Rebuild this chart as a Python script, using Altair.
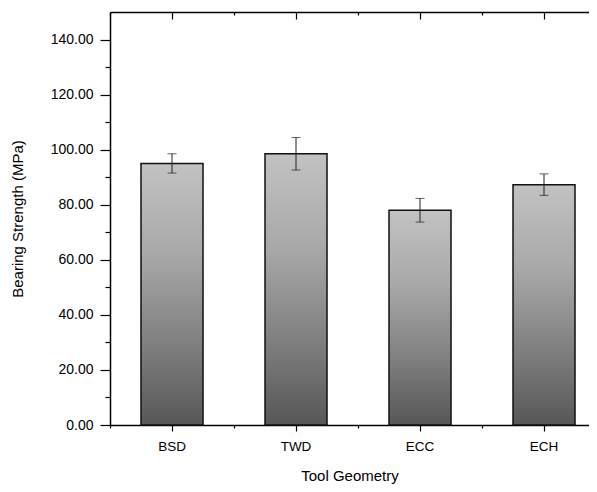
import altair as alt
import pandas as pd

categories = ["BSD", "TWD", "ECC", "ECH"]
strength = [95.0, 98.5, 78.0, 87.3]
error = [3.5, 5.9, 4.3, 3.9]
major_y = [0, 20, 40, 60, 80, 100, 120, 140]
minor_y = [10, 30, 50, 70, 90, 110, 130]

df = pd.DataFrame({"cat": categories, "val": strength, "err": error})
df["lo"] = df["val"] - df["err"]
df["hi"] = df["val"] + df["err"]

W, H = 479, 413
STEP = 124
FONT = "Liberation Sans"

xs = alt.Scale(type="band", domain=categories, paddingInner=0.5,
               paddingOuter=0.18145, align=0.689)
ys = alt.Scale(domain=[0, 150], nice=False, zero=True)


def xenc(axis):
    return alt.X("cat:N", scale=xs, axis=axis)


def yenc(axis, field="val"):
    return alt.Y(f"{field}:Q", scale=ys, axis=axis)


frame = dict(domain=True, domainColor="black", domainWidth=1.5,
             tickColor="black", tickWidth=1.2, grid=False)
common = dict(domain=False, tickColor="black", tickWidth=1.2, grid=False)
quiet = dict(labels=False, title=None, **common)

base = alt.Chart(df)

grad = alt.Gradient(
    gradient="linear",
    x1=0, x2=0, y1=0, y2=1,
    stops=[
        alt.GradientStop(color="#c2c2c2", offset=0),
        alt.GradientStop(color="#a8a8a8", offset=0.35),
        alt.GradientStop(color="#7e7e7e", offset=0.7),
        alt.GradientStop(color="#575757", offset=1),
    ],
)

bars = base.mark_bar(color=grad, stroke="#111111", strokeWidth=1.5).encode(
    x=xenc(alt.Axis(orient="bottom", title="Tool Geometry", labelAngle=0,
                    tickSize=6, labelPadding=8, titlePadding=16,
                    labelFont=FONT, labelFontSize=13.5, labelColor="black",
                    titleFont=FONT, titleFontSize=15, titleFontWeight="normal",
                    titleColor="black", **frame)),
    y=yenc(alt.Axis(orient="left", values=major_y, format=".2f",
                    title="Bearing Strength (MPa)", tickSize=10, labelPadding=7,
                    titlePadding=25,
                    labelFont=FONT, labelFontSize=14, labelColor="black",
                    titleFont=FONT, titleFontSize=15, titleFontWeight="normal",
                    titleColor="black", **frame)),
)

minor = base.mark_bar(opacity=0).encode(
    x=xenc(alt.Axis(orient="bottom", tickSize=3, tickOffset=-STEP / 2, **quiet)),
    y=yenc(alt.Axis(orient="left", values=minor_y, tickSize=5, **quiet)),
)

top = base.mark_bar(opacity=0).encode(
    x=xenc(alt.Axis(orient="bottom", offset=-H, tickSize=7, labels=False,
                    title=None, **frame)),
)

top_minor = base.mark_bar(opacity=0).encode(
    x=xenc(alt.Axis(orient="bottom", offset=-H, tickSize=3,
                    tickOffset=-STEP / 2, **quiet)),
)

rules = base.mark_rule(color="#222222", strokeWidth=1).encode(
    x=xenc(None), y=yenc(None, "lo"), y2="hi:Q"
)
cap_hi = base.mark_tick(color="#222222", size=9, thickness=1).encode(
    x=xenc(None), y=yenc(None, "hi")
)
cap_lo = base.mark_tick(color="#222222", size=9, thickness=1).encode(
    x=xenc(None), y=yenc(None, "lo")
)

chart = (
    alt.layer(bars, minor, top, top_minor, rules, cap_hi, cap_lo)
    .resolve_axis(x="independent", y="independent")
    .properties(
        width=W, height=H,
        autosize=alt.AutoSizeParams(type="none"),
        padding={"left": 102, "top": 4, "right": 0, "bottom": 59},
        background="white",
    )
    .configure_view(stroke=None)
)

chart.save("out.html", embed_options={"renderer": "svg", "actions": False})
